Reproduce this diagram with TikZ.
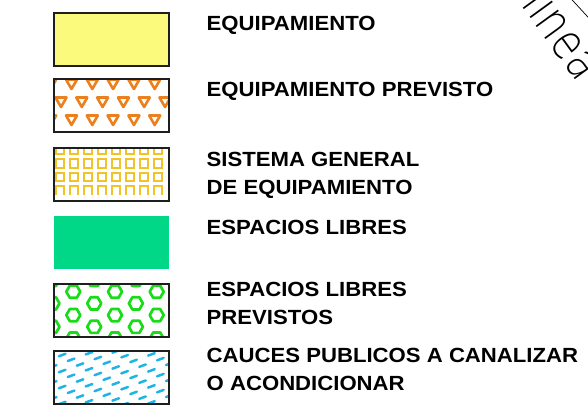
\documentclass[tikz,border=0pt]{standalone}
\usepackage{fontspec}
\newfontfamily\labfont{Liberation Sans}[FakeStretch=1.08]
\newfontfamily\thinfont{DejaVu Sans ExtraLight}[FakeStretch=0.8]
\definecolor{ylw}{RGB}{252,250,125}
\definecolor{orng}{RGB}{235,128,28}
\definecolor{gold}{RGB}{240,195,40}
\definecolor{grn}{RGB}{0,215,135}
\definecolor{hexg}{RGB}{25,220,25}
\definecolor{cyn}{RGB}{30,180,230}
\definecolor{brd}{RGB}{30,30,30}
\tikzset{
  legbox/.style={draw=brd, line width=2pt, minimum width=115pt, minimum height=53pt, inner sep=0pt, outer sep=0pt},
  lbl/.style={anchor=north west, inner sep=0pt, align=left, font=\labfont\bfseries\fontsize{20.5}{28.5}\selectfont},
  tri/.style={draw=orng, line width=2.6pt, line join=round},
  sq/.style={draw=gold, line width=2.3pt},
  hexa/.style={draw=hexg, line width=2.7pt, line join=round},
  cdash/.style={draw=cyn, line width=2.5pt, dash pattern=on 7pt off 12pt, line cap=round}
}
\begin{document}
\begin{tikzpicture}[x=1pt,y=-1pt]
\useasboundingbox[fill=white] (0,0) rectangle (588,416);

% box 1
\node[legbox, fill=ylw] (b1) at (111.5,39.5) {};

% box 2 triangles
\begin{scope}
\clip (54,79) rectangle (169,132);
\foreach \t in {79.5,115.5}{
  \foreach \i in {-1,...,4}{
    \pgfmathsetmacro\xx{71.5+20.8*\i}
    \draw[tri] (\xx-5.5,\t) -- (\xx+5.5,\t) -- (\xx,\t+9.5) -- cycle;
  }
}
\foreach \i in {0,...,5}{
  \pgfmathsetmacro\xx{61+20.8*\i}
  \draw[tri] (\xx-5.5,97.5) -- (\xx+5.5,97.5) -- (\xx,107) -- cycle;
}
\end{scope}
\node[legbox] (b2) at (111.5,105.5) {};

% box 3 squares
\begin{scope}
\clip (54,147) rectangle (169,201);
\foreach \yy in {150,163.5,177}{
  \foreach \i in {0,...,7}{
    \pgfmathsetmacro\xx{60+14*\i}
    \draw[sq] (\xx-4.2,\yy-4.2) rectangle (\xx+4.2,\yy+4.2);
  }
}
\foreach \i in {0,...,7}{
  \pgfmathsetmacro\xx{60+14*\i}
  \draw[sq] (\xx-4.2,194.5) -- (\xx-4.2,186.3) -- (\xx+4.2,186.3) -- (\xx+4.2,194.5);
}
\end{scope}
\node[legbox] (b3) at (111.5,174) {};

% box 4
\node[legbox, draw=none, fill=grn] (b4) at (111.5,242.5) {};

% box 5 hexagons
\begin{scope}
\clip (54,283) rectangle (169,337);
\foreach \yy in {280,303.4,326.8}{
  \foreach \xx in {52.5,94.2,135.9,177.6}{
    \draw[hexa, shift={(\xx,\yy)}] (0:7) -- (60:7) -- (120:7) -- (180:7) -- (240:7) -- (300:7) -- cycle;
  }
}
\foreach \yy in {291.7,315.1,338.5}{
  \foreach \xx in {73.3,115,156.7}{
    \draw[hexa, shift={(\xx,\yy)}] (0:7) -- (60:7) -- (120:7) -- (180:7) -- (240:7) -- (300:7) -- cycle;
  }
}
\end{scope}
\node[legbox] (b5) at (111.5,310) {};

% box 6 cyan dashes
\begin{scope}
\clip (54,350) rectangle (169,404);
\foreach \k in {0,...,12}{
  \pgfmathsetmacro\ph{mod(\k,2)*9.5}
  \pgfmathsetmacro\ya{350+8*\k}
  \draw[cdash, dash phase=\ph pt] (50,\ya+1.5) -- (173,\ya-43.5);
}
\end{scope}
\node[legbox] (b6) at (111.5,377) {};

% labels
\node[lbl] (t1) at (206.5,15.5) {EQUIPAMIENTO};
\node[lbl] (t2) at (206.5,81.5) {EQUIPAMIENTO PREVISTO};
\node[lbl] (t3) at (206.5,151.5) {SISTEMA GENERAL\\DE EQUIPAMIENTO};
\node[lbl] (t4) at (206.5,219.5) {ESPACIOS LIBRES};
\node[lbl] (t5) at (206.5,281.5) {ESPACIOS LIBRES\\PREVISTOS};
\node[lbl] (t6) at (206.5,347.5) {CAUCES PUBLICOS A CANALIZAR\\O ACONDICIONAR};

% top-right fragment
\draw[line width=0.7pt, black] (569,-3.5) -- (592,21.5);
\node[anchor=base west, rotate=-54, inner sep=0pt, font=\thinfont\fontsize{50}{50}\selectfont] (t7) at (520.5,4.5) {lineá};
\end{tikzpicture}
\end{document}
